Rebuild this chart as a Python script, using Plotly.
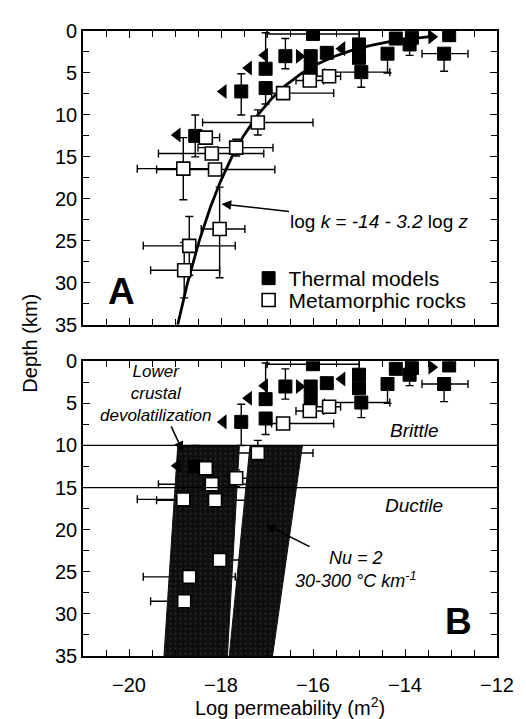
import math
import plotly.graph_objects as go

# ---------------- data ----------------
# Thermal models (filled squares): log permeability, depth (km), error bars
thermal_logk = [-16.0, -16.6, -16.05, -16.05, -15.7, -15.0, -15.0, -14.95, -14.38, -14.2,
                -13.85, -13.9, -13.04, -13.15, -17.03, -17.56, -17.03, -18.56]
thermal_depth = [0.35, 3.0, 3.0, 4.6, 2.6, 1.6, 3.2, 4.9, 2.7, 0.9,
                 0.8, 1.6, 0.5, 2.7, 4.5, 7.2, 6.8, 12.5]
thermal_xerr_minus = [1.0, 0, 0, 0, 0, 0, 0, 0.8, 0, 0, 0, 0, 0, 0.48, 0, 0, 0, 0]
thermal_xerr_plus = [1.0, 0, 0, 0, 0, 0, 0, 0.62, 0, 0, 0, 0, 0, 0.52, 0, 0, 0, 0]
thermal_zerr_minus = [0, 2.1, 0, 0, 0, 0, 0, 0, 0, 0, 0, 0, 0, 0, 4.3, 2.1, 0, 2.5]
thermal_zerr_plus = [0, 1.5, 0, 0, 0, 0, 0, 1.8, 2.3, 0, 0, 1.3, 0, 2.1, 0, 2.8, 1.9, 2.5]

# Thermal-model bounds (arrows)
upper_bound_logk = [-15.37, -17.05, -17.4, -17.95, -18.95]
upper_bound_depth = [2.1, 2.9, 4.4, 7.2, 12.4]
lower_bound_logk = [-13.42, -16.3]
lower_bound_depth = [0.7, 3.0]

# Metamorphic rocks (open squares)
meta_logk = [-16.65, -16.07, -15.65, -17.2, -18.33, -18.2, -17.67, -18.82, -18.13, -18.03, -18.69, -18.8]
meta_depth = [7.4, 5.9, 5.4, 10.9, 12.7, 14.6, 13.9, 16.4, 16.5, 23.6, 25.6, 28.5]
meta_xerr_minus = [0.25, 0.3, 0.3, 1.2, 0.3, 1.16, 0.83, 1.0, 1.27, 0.4, 1.0, 0.73]
meta_xerr_plus = [1.1, 0.3, 0.25, 1.2, 0.3, 1.13, 0.8, 0.6, 1.3, 0.55, 1.0, 0.77]
meta_zerr_minus = [0, 0, 0, 1.5, 0, 0, 1.0, 3.7, 0, 5.0, 3.5, 3.3]
meta_zerr_plus = [0, 0, 0, 1.5, 0, 0, 1.0, 3.7, 0, 5.8, 3.5, 3.3]

# Fit: log k = -14 - 3.2 log z
fit_a = -14.0
fit_b = -3.2
fit_depths = [0.65, 0.8, 1, 1.3, 1.7, 2.2, 3, 4, 5, 6.5, 8, 10, 12.5, 15, 18, 21, 25, 30, 35]

# Nu = 2 bands (panel B), edges at top and bottom depth
band_depths = [10, 35]
band1_left = [-18.94, -19.24]
band1_right = [-17.6, -17.86]
band2_left = [-17.37, -17.82]
band2_right = [-16.23, -16.88]

# Brittle/ductile transition lines
transition_depths = [10, 15]

FONT = "Liberation Sans, Arial, Helvetica, sans-serif"

fig = go.Figure()


def err(minus, plus, color="black"):
    return dict(type="data", symmetric=False, array=plus, arrayminus=minus,
                color=color, thickness=1.4, width=4)


def add_panel(xa, ya, legend):
    if xa == "x":
        fit_logk = [fit_a + fit_b * math.log10(z) for z in fit_depths]
        fig.add_trace(go.Scatter(x=fit_logk, y=fit_depths, mode="lines",
                                 line=dict(color="black", width=2.8),
                                 xaxis=xa, yaxis=ya, showlegend=False, hoverinfo="skip"))
    fig.add_trace(go.Scatter(x=meta_logk, y=meta_depth, mode="markers",
                             marker=dict(size=2, color="rgba(0,0,0,0)"),
                             error_x=err(meta_xerr_minus, meta_xerr_plus),
                             error_y=err(meta_zerr_minus, meta_zerr_plus),
                             xaxis=xa, yaxis=ya, showlegend=False, hoverinfo="skip"))
    fig.add_trace(go.Scatter(x=thermal_logk, y=thermal_depth, mode="markers",
                             marker=dict(size=2, color="rgba(0,0,0,0)"),
                             error_x=err(thermal_xerr_minus, thermal_xerr_plus),
                             error_y=err(thermal_zerr_minus, thermal_zerr_plus),
                             xaxis=xa, yaxis=ya, showlegend=False, hoverinfo="skip"))
    if xa == "x2":
        for left, right in ((band1_left, band1_right), (band2_left, band2_right)):
            fig.add_trace(go.Scatter(
                x=left + right[::-1] + [left[0]],
                y=band_depths + band_depths[::-1] + [band_depths[0]],
                mode="lines", fill="toself",
                fillcolor="#111111", line=dict(color="#111111", width=1),
                fillpattern=dict(shape=".", bgcolor="#0e0e0e", fgcolor="#4a4a4a",
                                 size=5, solidity=0.15),
                xaxis=xa, yaxis=ya, showlegend=False, hoverinfo="skip"))
    fig.add_trace(go.Scatter(x=upper_bound_logk, y=upper_bound_depth, mode="markers",
                             marker=dict(symbol="triangle-left", size=13, color="black"),
                             xaxis=xa, yaxis=ya, showlegend=False))
    fig.add_trace(go.Scatter(x=lower_bound_logk, y=lower_bound_depth, mode="markers",
                             marker=dict(symbol="triangle-right", size=13, color="black"),
                             xaxis=xa, yaxis=ya, showlegend=False))
    fig.add_trace(go.Scatter(x=thermal_logk, y=thermal_depth, mode="markers",
                             name="Thermal models", legend="legend",
                             marker=dict(symbol="square", size=13, color="black",
                                         line=dict(color="black", width=1)),
                             xaxis=xa, yaxis=ya, showlegend=legend))
    fig.add_trace(go.Scatter(x=meta_logk, y=meta_depth, mode="markers",
                             name="Metamorphic rocks", legend="legend2",
                             marker=dict(symbol="square", size=13, color="white",
                                         line=dict(color="black", width=1.6)),
                             xaxis=xa, yaxis=ya, showlegend=legend))


add_panel("x", "y", True)
add_panel("x2", "y2", False)

axis_common = dict(range=[-21, -12], tick0=-20, dtick=2, ticks="inside", ticklen=7,
                   tickwidth=1.2, tickcolor="black", mirror="ticks", showline=True,
                   linecolor="black", linewidth=1.6, showgrid=False, zeroline=False,
                   minor=dict(dtick=0.5, tick0=-21, ticks="inside", ticklen=6,
                              tickwidth=1.2, tickcolor="black"),
                   tickfont=dict(family=FONT, size=20, color="black"))
yaxis_common = dict(range=[35, 0], tick0=0, dtick=5, ticks="inside", ticklen=7,
                    tickwidth=1.2, tickcolor="black", mirror="ticks", showline=True,
                    linecolor="black", linewidth=1.6, showgrid=False, zeroline=False,
                    minor=dict(dtick=2.5, ticks="inside", ticklen=6, tickwidth=1.2,
                               tickcolor="black"),
                    tickfont=dict(family=FONT, size=20, color="black"))

# page body has an 8px margin, so the figure is shrunk by 8px to keep the plot frame in place
fig.update_layout(
    width=518, height=711,
    margin=dict(l=75, r=19, t=14, b=63),
    paper_bgcolor="white", plot_bgcolor="white",
    font=dict(family=FONT, size=20, color="black"),
    xaxis=dict(axis_common, domain=[0, 1], anchor="y", showticklabels=False),
    yaxis=dict(yaxis_common, domain=[0.53, 1], anchor="x"),
    xaxis2=dict(axis_common, domain=[0, 1], anchor="y2", ticklabelstandoff=10),
    yaxis2=dict(yaxis_common, domain=[0, 0.4716], anchor="x2"),
    legend=dict(x=0.40, y=0.604, xanchor="left", yanchor="middle",
                bgcolor="rgba(0,0,0,0)", font=dict(family=FONT, size=21),
                itemsizing="trace"),
    legend2=dict(x=0.40, y=0.569, xanchor="left", yanchor="middle",
                 bgcolor="rgba(0,0,0,0)", font=dict(family=FONT, size=21),
                 itemsizing="trace"),
    showlegend=True,
)

for z in transition_depths:
    fig.add_shape(type="line", xref="x2 domain", yref="y2", x0=0, x1=1, y0=z, y1=z,
                  line=dict(color="black", width=1.3))

ann = []
ann.append(dict(x=-17.99, y=20.6, xref="x", yref="y", ax=158, ay=18,
                text="log <i>k</i> = <i>-14 - 3.2</i> log <i>z</i>",
                font=dict(family=FONT, size=19), showarrow=True, arrowhead=2,
                arrowsize=1.3, arrowwidth=1.5, arrowcolor="black"))
ann.append(dict(x=-20.17, y=31.0, xref="x", yref="y", text="<b>A</b>",
                font=dict(family=FONT, size=37), showarrow=False))
ann.append(dict(x=-12.83, y=30.9, xref="x2", yref="y2", text="<b>B</b>",
                font=dict(family=FONT, size=37), showarrow=False))
ann.append(dict(x=-18.83, y=10.7, xref="x2", yref="y2", ax=-27, ay=-58,
                text="<i>Lower<br>crustal<br>devolatilization</i>",
                font=dict(family=FONT, size=17), showarrow=True, arrowhead=2,
                arrowsize=1.3, arrowwidth=1.5, arrowcolor="black"))
ann.append(dict(x=-17.03, y=19.4, xref="x2", yref="y2", ax=90, ay=45,
                text="<i>Nu = 2<br>30-300 °C km<sup>-1</sup></i>",
                font=dict(family=FONT, size=18), showarrow=True, arrowhead=2,
                arrowsize=1.3, arrowwidth=1.5, arrowcolor="black"))
ann.append(dict(x=-13.8, y=8.2, xref="x2", yref="y2", text="<i>Brittle</i>",
                font=dict(family=FONT, size=19), showarrow=False))
ann.append(dict(x=-13.8, y=17.1, xref="x2", yref="y2", text="<i>Ductile</i>",
                font=dict(family=FONT, size=19), showarrow=False))
ann.append(dict(x=-0.13, y=0.5, xref="paper", yref="paper", text="Depth (km)",
                textangle=-90, font=dict(family=FONT, size=20), showarrow=False,
                xanchor="center", yanchor="middle"))
ann.append(dict(x=0.5, y=-0.08, xref="paper", yref="paper",
                text="Log permeability (m<sup>2</sup>)",
                font=dict(family=FONT, size=20), showarrow=False,
                xanchor="center", yanchor="middle"))
fig.update_layout(annotations=ann)

fig.write_html("out.html")
